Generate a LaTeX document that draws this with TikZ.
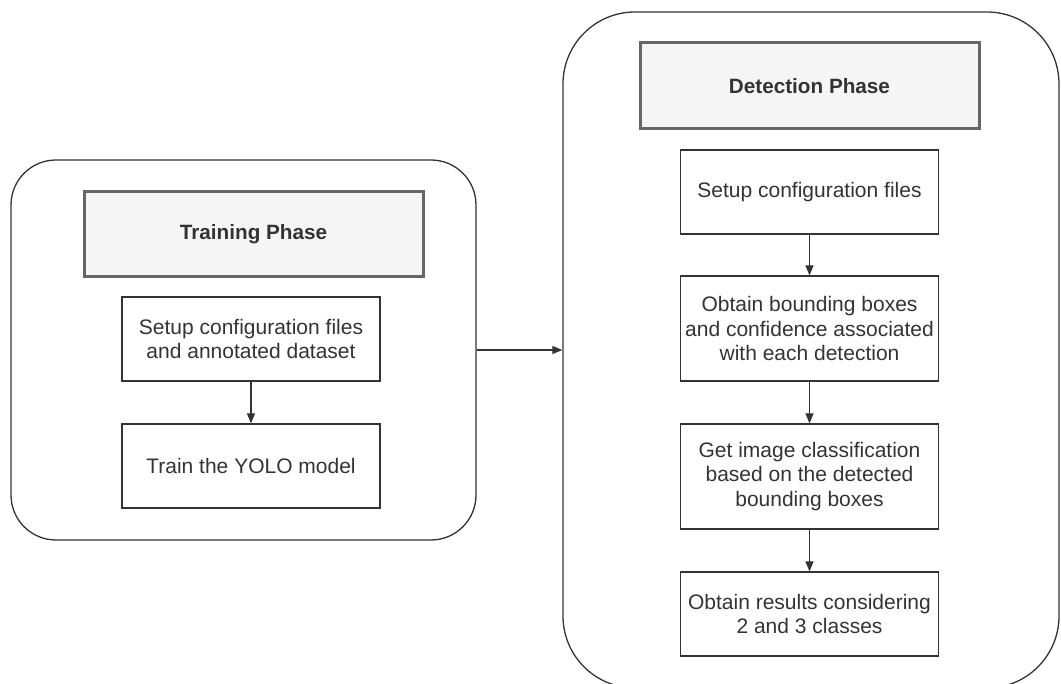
\documentclass[tikz,border=0pt]{standalone}
\usepackage{fontspec}
\setmainfont{Liberation Sans}
\usetikzlibrary{arrows.meta}
\definecolor{txt}{HTML}{333333}
\definecolor{titlefill}{HTML}{F5F5F5}
\definecolor{titleline}{HTML}{666666}
\tikzset{
  base/.style={font=\fontsize{21}{24.6}\selectfont, text=txt, align=center, inner sep=0pt},
  container/.style={draw=txt, line width=1.3pt, fill=none},
  phasebox/.style={base, draw=titleline, fill=titlefill, line width=3pt,
    minimum width=339pt, font=\fontsize{20.7}{24.6}\selectfont\bfseries},
  stepbox/.style={base, draw=txt, line width=1.2pt, minimum width=258pt},
  flow/.style={draw=txt, line width=1.2pt, -{Triangle[length=10pt,width=8pt]}}
}
\begin{document}
\begin{tikzpicture}[x=1pt, y=-1pt]
\useasboundingbox (0,0) rectangle (1061,684);

% training container and its steps
\node[container, rounded corners=45pt, minimum width=465pt, minimum height=380pt] (train) at (243.5,350) {};
\node[phasebox, minimum height=85pt] (ttitle) at (253.5,234.5) {Training Phase};
\node[stepbox, minimum height=84pt] (t1) at (251,339) {Setup configuration files\\and annotated dataset};
\node[stepbox, minimum height=84pt] (t2) at (251,466) {Train the YOLO model};

% detection container and its steps
\node[container, rounded corners=72pt, minimum width=496pt, minimum height=676pt] (detect) at (811,350) {};
\node[phasebox, minimum height=86pt] (dtitle) at (809.5,86) {Detection Phase};
\node[stepbox, minimum height=84pt] (d1) at (809.5,192) {Setup configuration files};
\node[stepbox, minimum height=105pt] (d2) at (809.5,328.5) {Obtain bounding boxes\\and confidence associated\\with each detection};
\node[stepbox, minimum height=105pt] (d3) at (809.5,476.5) {Get image classification\\based on the detected\\bounding boxes};
\node[stepbox, minimum height=84pt] (d4) at (809.5,614) {Obtain results considering\\2 and 3 classes};

% connectors
\draw[flow] (t1) -- (t2);
\draw[flow] (d1) -- (d2);
\draw[flow] (d2) -- (d3);
\draw[flow] (d3) -- (d4);
\draw[flow] (train) -- (detect);
\end{tikzpicture}
\end{document}
